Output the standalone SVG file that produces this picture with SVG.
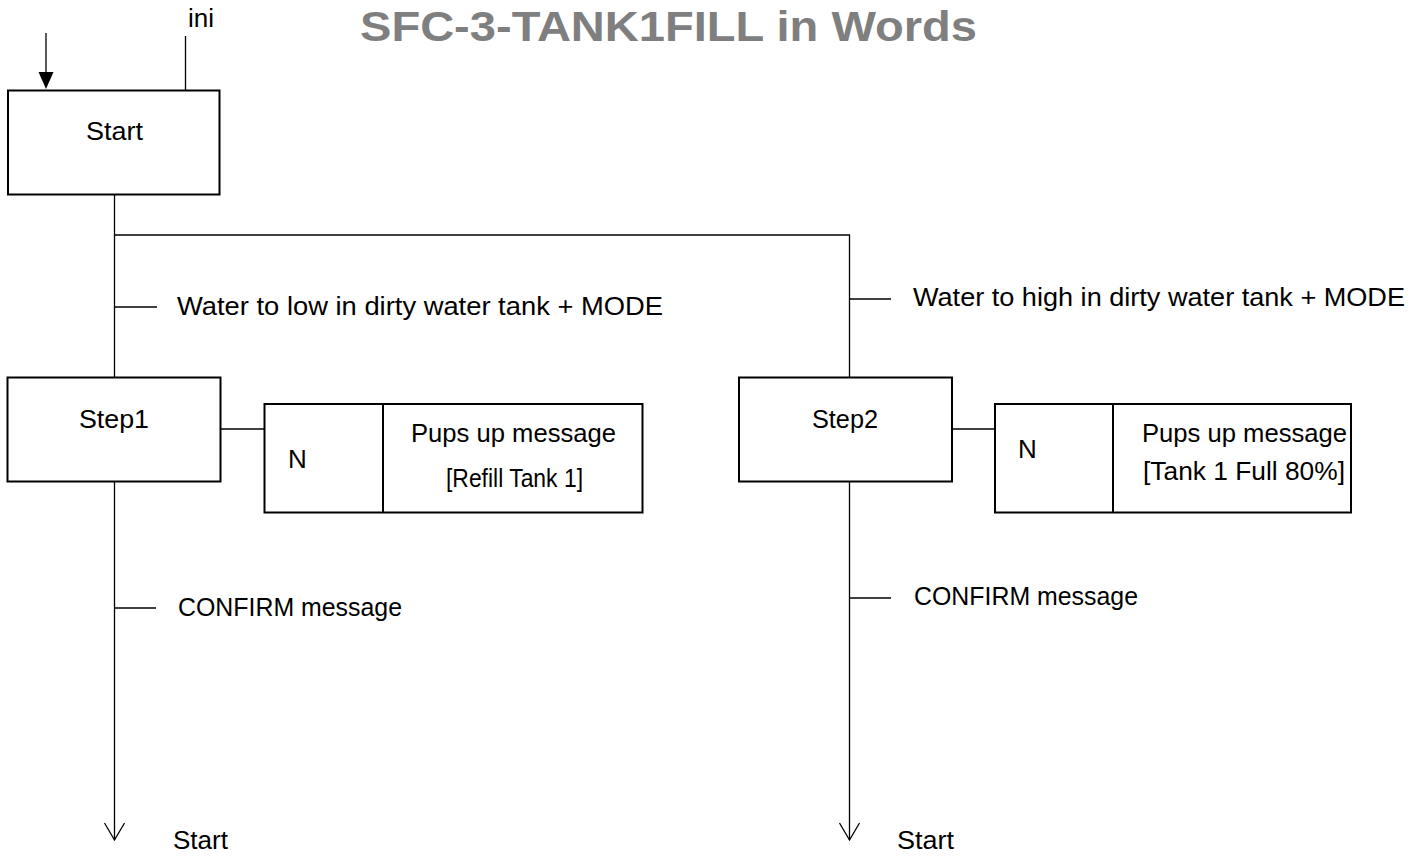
<svg xmlns="http://www.w3.org/2000/svg" width="1428" height="859" viewBox="0 0 1428 859">
<style>
.box{fill:#fff;stroke:#000;stroke-width:2}
.ln{fill:none;stroke:#000;stroke-width:1.3}
.t{font-family:"Liberation Sans",Arial,sans-serif;font-size:26px;fill:#000}
.c{text-anchor:middle}
.title{font-family:"Liberation Sans",Arial,sans-serif;font-size:43px;font-weight:bold;fill:#7f7f7f}
</style>
<defs>
<marker id="open" markerWidth="20" markerHeight="24" refX="18" refY="11" orient="auto" markerUnits="userSpaceOnUse" viewBox="0 0 20 24">
<path d="M1,1 L18,11 L1,21" fill="none" stroke="#000" stroke-width="1.3"/>
</marker>
</defs>
<rect width="1428" height="859" fill="#fff"/>
<text class="title" x="360" y="41" textLength="617" lengthAdjust="spacingAndGlyphs">SFC-3-TANK1FILL in Words</text>
<g id="connectors">
<line class="ln" x1="46" y1="33" x2="46" y2="74"/>
<path d="M38.5,72 L53.5,72 L46,89 Z" fill="#000"/>
<line class="ln" x1="185.5" y1="36" x2="185.5" y2="90"/>
<line class="ln" x1="114.5" y1="195" x2="114.5" y2="377"/>
<polyline class="ln" points="114.5,235 849.5,235 849.5,377"/>
<line class="ln" x1="114.5" y1="307" x2="157" y2="307"/>
<line class="ln" x1="849.5" y1="299" x2="891" y2="299"/>
<line class="ln" x1="221" y1="429" x2="264.5" y2="429"/>
<line class="ln" x1="952" y1="429" x2="995" y2="429"/>
<line class="ln" x1="114.5" y1="482" x2="114.5" y2="840" marker-end="url(#open)"/>
<line class="ln" x1="849.5" y1="482" x2="849.5" y2="840" marker-end="url(#open)"/>
<line class="ln" x1="114.5" y1="608" x2="156" y2="608"/>
<line class="ln" x1="849.5" y1="598" x2="891" y2="598"/>
</g>
<g id="labels">
<text class="t" x="188" y="27" textLength="26" lengthAdjust="spacingAndGlyphs">ini</text>
<text class="t" x="177" y="315" textLength="486" lengthAdjust="spacingAndGlyphs">Water to low in dirty water tank + MODE</text>
<text class="t" x="913" y="306" textLength="492" lengthAdjust="spacingAndGlyphs">Water to high in dirty water tank + MODE</text>
<text class="t" x="178" y="616" textLength="224" lengthAdjust="spacingAndGlyphs">CONFIRM message</text>
<text class="t" x="914" y="605" textLength="224" lengthAdjust="spacingAndGlyphs">CONFIRM message</text>
<text class="t" x="173" y="849" textLength="55" lengthAdjust="spacingAndGlyphs">Start</text>
<text class="t" x="897" y="849" textLength="57" lengthAdjust="spacingAndGlyphs">Start</text>
</g>
<g id="start">
<rect class="box" x="8" y="90.5" width="211.5" height="104"/>
<text class="t c" x="114.5" y="140" textLength="57" lengthAdjust="spacingAndGlyphs">Start</text>
</g>
<g id="step1">
<rect class="box" x="7.5" y="377.5" width="213" height="104"/>
<text class="t c" x="114" y="428" textLength="70" lengthAdjust="spacingAndGlyphs">Step1</text>
</g>
<g id="action1">
<rect class="box" x="264.5" y="404" width="378" height="108.5"/>
<line class="box" x1="383" y1="404" x2="383" y2="512.5"/>
<text class="t" x="288" y="468">N</text>
<text class="t c" x="513.5" y="442" textLength="205" lengthAdjust="spacingAndGlyphs">Pups up message</text>
<text class="t c" x="514.5" y="487" textLength="137" lengthAdjust="spacingAndGlyphs">[Refill Tank 1]</text>
</g>
<g id="step2">
<rect class="box" x="739" y="377.5" width="213" height="104"/>
<text class="t c" x="845" y="428" textLength="66" lengthAdjust="spacingAndGlyphs">Step2</text>
</g>
<g id="action2">
<rect class="box" x="995" y="404" width="356" height="108.5"/>
<line class="box" x1="1113" y1="404" x2="1113" y2="512.5"/>
<text class="t" x="1018" y="458">N</text>
<text class="t c" x="1244.5" y="442" textLength="205" lengthAdjust="spacingAndGlyphs">Pups up message</text>
<text class="t c" x="1244" y="480" textLength="202" lengthAdjust="spacingAndGlyphs">[Tank 1 Full 80%]</text>
</g>
</svg>
